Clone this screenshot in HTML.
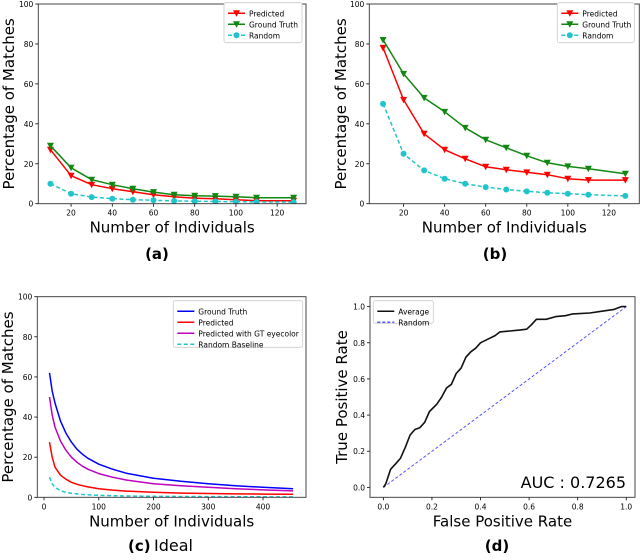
<!DOCTYPE html>
<html><head><meta charset="utf-8">
<style>
body{margin:0;background:#fff;width:640px;height:556px;overflow:hidden;font-family:"DejaVu Sans","Liberation Sans",sans-serif}
svg text{font-family:"DejaVu Sans","Liberation Sans",sans-serif}
</style></head>
<body>
<svg id="fig" width="640" height="556" viewBox="0 0 640 556" xmlns="http://www.w3.org/2000/svg"></svg>
<script>
// ---- data ----
const abX = [10,20,30,40,50,60,70,80,90,100,110,128];
const aPred = [27,14,9.5,7.5,6,4.5,3.5,2.7,2.5,2,1.5,1.5];
const aGT = [29,18,12,9.5,7.5,5.8,4.5,4,3.8,3.5,3,3];
const aRand = [10,5,3.3,2.5,2,1.7,1.4,1.25,1.1,1,0.9,0.8];
const bPred = [78,52,35,27,22.5,18.5,17,15.7,14.5,12.5,11.8,11.8];
const bGT = [82,65,53,46,38,32,28,24,20.5,18.7,17.5,15];
const bRand = [50,25,16.7,12.5,10,8.3,7.1,6.2,5.5,5,4.5,3.9];
const cX = [10,15,20,30,40,50,60,70,80,100,125,150,200,250,300,350,400,455];
const cGT = [62,53,47,38,32,27.5,24,21.5,19.5,16.5,14,12,9.5,8,6.8,5.8,5,4.3];
const cPred = [27.5,20,15,11,9,7.5,6.5,5.8,5.2,4.3,3.6,3.1,2.5,2.1,1.9,1.7,1.6,1.5];
const cPredEye = [50,41,35,28,23.5,20,17.5,15.5,14,11.8,10,8.6,6.8,5.8,5,4.3,3.7,3.2];
const cRand = [10,6.7,5,3.3,2.5,2,1.7,1.4,1.25,1,0.8,0.67,0.5,0.4,0.33,0.29,0.25,0.22];
const dFPR = [0,0.01,0.03,0.05,0.07,0.09,0.11,0.13,0.15,0.17,0.19,0.22,0.24,0.26,0.28,0.30,0.32,0.34,0.36,0.38,0.40,0.43,0.46,0.48,0.52,0.56,0.59,0.61,0.63,0.67,0.71,0.75,0.78,0.85,0.90,0.95,0.98,1];
const dTPR = [0,0.02,0.1,0.13,0.16,0.22,0.29,0.32,0.33,0.36,0.42,0.46,0.5,0.55,0.57,0.63,0.66,0.72,0.75,0.77,0.80,0.82,0.84,0.86,0.865,0.87,0.875,0.9,0.93,0.93,0.945,0.95,0.96,0.965,0.975,0.985,1.0,1];
const abXTicks = [20,40,60,80,100,120];
const pctTicks = [0,20,40,60,80,100];
const cXTicks = [0,100,200,300,400];
const rocTicks = [0,0.2,0.4,0.6,0.8,1.0];

const NS="http://www.w3.org/2000/svg";
const fig=document.getElementById('fig');
function el(tag,attrs,parent,txt){const e=document.createElementNS(NS,tag);for(const k in attrs)e.setAttribute(k,attrs[k]);if(txt!==undefined)e.textContent=txt;(parent||fig).appendChild(e);return e;}

function panel(o){
  const g=el('g',{});
  
  
  const sx=v=>o.x0+(v-o.xmin)/(o.xmax-o.xmin)*(o.x1-o.x0);
  const sy=v=>o.y1-(v-o.ymin)/(o.ymax-o.ymin)*(o.y1-o.y0);
  o.sx=sx;o.sy=sy;
  o.xticks.forEach(t=>{const x=sx(t);
    el('line',{x1:x,x2:x,y1:o.y1,y2:o.y1+3,stroke:'#000','stroke-width':0.8},g);
    const tx=el('text',{x:x,y:o.y1+12,'font-size':7.5,'text-anchor':'middle'},g,o.xfmt?o.xfmt(t):t);
    
    });
  o.yticks.forEach(t=>{const y=sy(t);
    el('line',{x1:o.x0-3,x2:o.x0,y1:y,y2:y,stroke:'#000','stroke-width':0.8},g);
    const tx=el('text',{x:o.x0-5,y:y+3,'font-size':7.5,'text-anchor':'end'},g,o.yfmt?o.yfmt(t):t);
    
    });
  const clip='clip'+o.name;
  const cp=el('clipPath',{id:clip},g);el('rect',{x:o.x0,y:o.y0,width:o.x1-o.x0,height:o.y1-o.y0},cp);
  const sg=el('g',{'clip-path':'url(#'+clip+')'},g);
  o.series.forEach(s=>{
    const pts=s.xs.map((x,i)=>sx(x).toFixed(1)+','+sy(s.ys[i]).toFixed(1)).join(' ');
    const pl=el('polyline',{points:pts,fill:'none',stroke:s.color,'stroke-width':s.w||1.5,'stroke-dasharray':s.dash||'','stroke-linejoin':'round'},sg);
    
    
    if(s.marker){s.xs.forEach((x,i)=>{const X=sx(x),Y=sy(s.ys[i]);let m;
      if(s.marker==='v')m=el('polygon',{points:`${X-3.5},${Y-3} ${X+3.5},${Y-3} ${X},${Y+3.5}`,fill:s.color},sg);
      else m=el('circle',{cx:X,cy:Y,r:3,fill:s.color},sg);
      
      });}
  });
  const fr=el('rect',{x:o.x0,y:o.y0,width:o.x1-o.x0,height:o.y1-o.y0,fill:'none',stroke:'#333','stroke-width':0.9},g);
  
  
  const L=o.legend;
  const lg=el('g',{},g);
  
  
  el('rect',{x:L.x,y:L.y,width:L.w,height:L.h,fill:'#fff',stroke:'#ccc','stroke-width':0.8,rx:2},lg);
  L.items.forEach((it,i)=>{const yy=L.y+10.6+i*(L.dy||11);const s=it;
    el('line',{x1:L.x+4,x2:L.x+21,y1:yy,y2:yy,stroke:s.color,'stroke-width':1.5,'stroke-dasharray':s.dash||''},lg);
    if(s.marker==='v')el('polygon',{points:`${L.x+9},${yy-3} ${L.x+16},${yy-3} ${L.x+12.5},${yy+3.5}`,fill:s.color},lg);
    if(s.marker==='o')el('circle',{cx:L.x+12.5,cy:yy,r:3,fill:s.color},lg);
    const t=el('text',{x:L.x+25,y:yy+3,'font-size':7.5},lg,s.label);
    
    });
  const xl=el('text',{x:(o.x0+o.x1)/2,y:o.y1+29,'font-size':15,'text-anchor':'middle'},g,o.xlabel);
  
  
  const yc=(o.y0+o.y1)/2;
  const yl=el('text',{x:o.ylx,y:yc,'font-size':15,'text-anchor':'middle',transform:`rotate(-90 ${o.ylx} ${yc})`},g,o.ylabel);
  
  
  const cap=el('text',{x:o.capx,y:o.capy,'font-size':15,'text-anchor':'middle','font-weight':'bold'},g,o.cap);
  
  
  return o;
}
const R='#ff0000',G='#118811',C='#22c4cc';
panel({name:'panel-a',x0:38.3,x1:306,y0:4,y1:203.7,xmin:4.1,xmax:134,ymin:0,ymax:100,
  xticks:abXTicks,yticks:pctTicks,xlabel:'Number of Individuals',ylabel:'Percentage of Matches',ylx:14,cap:'(a)',capx:157,capy:259,
  series:[{id:'predicted',xs:abX,ys:aPred,color:R,marker:'v'},{id:'ground-truth',xs:abX,ys:aGT,color:G,marker:'v'},{id:'random',xs:abX,ys:aRand,color:C,marker:'o',dash:'4,2.5'}],
  legend:{x:224,y:2.7,w:78,h:40,items:[{label:'Predicted',color:R,marker:'v'},{label:'Ground Truth',color:G,marker:'v'},{label:'Random',color:C,marker:'o',dash:'4,2.5'}]}});
panel({name:'panel-b',x0:369.3,x1:639.3,y0:4,y1:203.7,xmin:3.3,xmax:134.8,ymin:0,ymax:100,
  xticks:abXTicks,yticks:pctTicks,xlabel:'Number of Individuals',ylabel:'Percentage of Matches',ylx:346,cap:'(b)',capx:495,capy:259,
  series:[{id:'predicted',xs:abX,ys:bPred,color:R,marker:'v'},{id:'ground-truth',xs:abX,ys:bGT,color:G,marker:'v'},{id:'random',xs:abX,ys:bRand,color:C,marker:'o',dash:'4,2.5'}],
  legend:{x:557.3,y:2.7,w:77,h:40,items:[{label:'Predicted',color:R,marker:'v'},{label:'Ground Truth',color:G,marker:'v'},{label:'Random',color:C,marker:'o',dash:'4,2.5'}]}});
panel({name:'panel-c',x0:37.3,x1:306,y0:296.7,y1:497.3,xmin:-12.3,xmax:478.5,ymin:0,ymax:100,
  xticks:cXTicks,yticks:pctTicks,xlabel:'Number of Individuals',ylabel:'Percentage of Matches',ylx:13,cap:'',capx:0,capy:0,
  series:[{id:'ground-truth',xs:cX,ys:cGT,color:'#0000ff'},{id:'predicted',xs:cX,ys:cPred,color:R},{id:'predicted-gt-eyecolor',xs:cX,ys:cPredEye,color:'#bf00bf'},{id:'random-baseline',xs:cX,ys:cRand,color:C,dash:'4,2.5'}],
  legend:{x:173.3,y:300.7,w:129.4,h:46.6,items:[{label:'Ground Truth',color:'#0000ff'},{label:'Predicted',color:R},{label:'Predicted with GT eyecolor',color:'#bf00bf'},{label:'Random Baseline',color:C,dash:'4,2.5'}]}});
const capc=el('text',{x:128,y:551,'font-size':15,'font-weight':'bold'},fig,'(c)');


const ideal=el('text',{x:154,y:551,'font-size':16,'font-family':'Liberation Serif, serif'},fig,'Ideal');


const fd=v=>v.toFixed(1);
panel({name:'panel-d',x0:370,x1:635,y0:296.7,y1:497.3,xmin:-0.055,xmax:1.036,ymin:-0.055,ymax:1.055,
  xticks:rocTicks,yticks:rocTicks,xfmt:fd,yfmt:fd,xlabel:'False Positive Rate',ylabel:'True Positive Rate',ylx:347,cap:'(d)',capx:497,capy:551,
  series:[{id:'random',xs:[0,1],ys:[0,1],color:'#5555ff',dash:'3,2',w:1},{id:'average-roc',xs:dFPR,ys:dTPR,color:'#111',w:1.6}],
  legend:{x:373.3,y:300.7,w:60,h:22.6,items:[{label:'Average',color:'#111'},{label:'Random',color:'#5555ff',dash:'3,2'}]}});
const auc=el('text',{x:626,y:488,'font-size':16,'text-anchor':'end'},fig,'AUC : 0.7265');


</script>
</body></html>
